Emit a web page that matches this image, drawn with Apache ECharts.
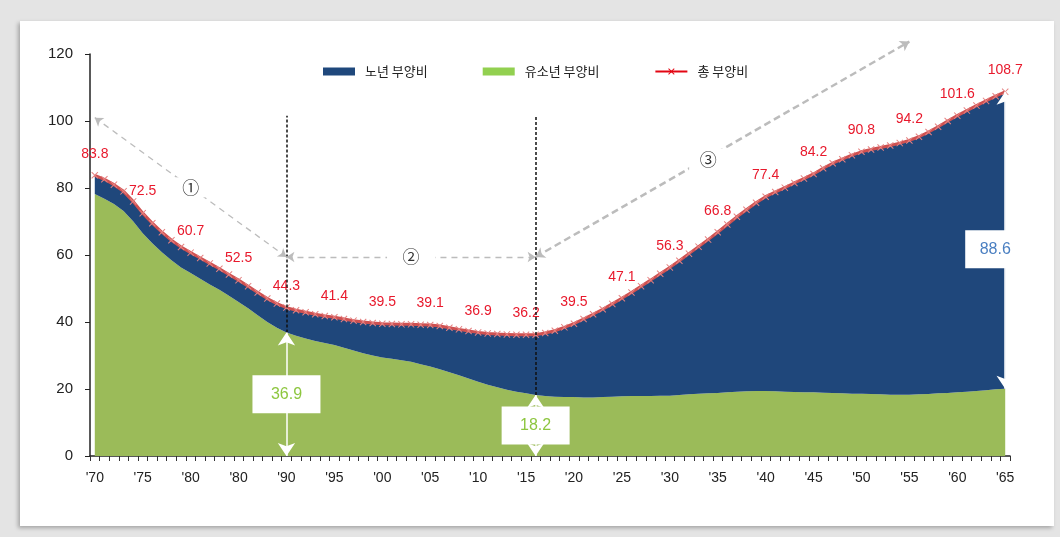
<!DOCTYPE html>
<html><head><meta charset="utf-8">
<script src="https://cdn.jsdelivr.net/npm/echarts@6/dist/echarts.min.js"></script>
<style>
html,body{margin:0;padding:0;width:1060px;height:537px;background:#e4e4e4;overflow:hidden;}
#card{position:absolute;left:20px;top:21px;width:1034px;height:505px;background:#fff;box-shadow:-2px 2px 4px rgba(0,0,0,0.28);}
#chart{position:absolute;left:0;top:0;width:1060px;height:537px;}
</style></head><body>
<div id="card"></div><div id="chart"></div>
<script>
const years = Array.from({length: 96}, (_, i) => String(1970 + i));
const tickLabels = ["'70","'75","'80","'80","'90","'95","'00","'05","'10","'15","'20","'25","'30","'35","'40","'45","'50","'55","'60","'65"];
const total = [
  83.8, 82.6, 81.0, 79.0, 76.0, 72.5, 69.5, 66.8, 64.4, 62.4,
  60.7, 59.1, 57.5, 55.9, 54.2, 52.5, 50.7, 48.8, 47.0, 45.5,
  44.3, 43.5, 42.9, 42.3, 41.8, 41.4, 40.9, 40.4, 40.0, 39.7,
  39.5, 39.4, 39.3, 39.3, 39.2, 39.1, 38.8, 38.3, 37.8, 37.3,
  36.9, 36.6, 36.4, 36.3, 36.2, 36.2, 36.2, 36.7, 37.4, 38.4,
  39.5, 40.9, 42.3, 43.8, 45.4, 47.1, 48.8, 50.7, 52.5, 54.4,
  56.3, 58.3, 60.4, 62.5, 64.6, 66.8, 69.1, 71.4, 73.5, 75.6,
  77.4, 78.8, 80.1, 81.5, 82.8, 84.2, 85.9, 87.4, 88.6, 89.8,
  90.8, 91.5, 92.1, 92.7, 93.4, 94.2, 95.3, 96.7, 98.3, 100.0,
  101.6, 103.1, 104.6, 106.0, 107.4, 108.7
];
const youth = [
  78.2, 76.8, 75.2, 73.1, 70.1, 66.5, 63.5, 60.8, 58.4, 56.3,
  54.6, 52.9, 51.2, 49.6, 47.8, 46.0, 44.1, 42.0, 40.0, 38.3,
  36.9, 35.9, 35.1, 34.3, 33.7, 33.1, 32.3, 31.5, 30.7, 30.0,
  29.4, 29.0, 28.6, 28.1, 27.4, 26.7, 25.9, 25.0, 24.1, 23.1,
  22.2, 21.3, 20.5, 19.8, 19.2, 18.7, 18.2, 17.9, 17.7, 17.6,
  17.6, 17.5, 17.5, 17.6, 17.7, 17.8, 17.9, 17.9, 17.9, 18.0,
  18.0, 18.2, 18.4, 18.6, 18.7, 18.8, 19.0, 19.2, 19.3, 19.4,
  19.4, 19.3, 19.2, 19.1, 19.0, 19.0, 18.9, 18.8, 18.7, 18.6,
  18.6, 18.5, 18.4, 18.3, 18.3, 18.3, 18.4, 18.5, 18.7, 18.8,
  19.0, 19.2, 19.4, 19.6, 19.9, 20.1
];
const elderly = total.map((t, i) => +(t - youth[i]).toFixed(1));

const NARROW = "'Liberation Sans Narrow', 'Arial Narrow', 'Liberation Sans', Arial, sans-serif";
const KR = "'Noto Sans CJK KR', 'Noto Sans', sans-serif";
const X_PATH = 'path://M0,1L1,0L5,4L9,0L10,1L6,5L10,9L9,10L5,6L1,10L0,9L4,5Z';
const at = y => years.indexOf(String(y));

const grayLine = (w, dash) => ({color: '#bcbcbc', width: w, type: dash});
const arrowPair = (a, b, style) => [
  {coord: a, symbol: 'arrow', symbolSize: 8, lineStyle: style},
  {coord: b, symbol: 'arrow', symbolSize: 8}
];
const arrowPairPx = (a, b, style) => [
  {x: a[0], y: a[1], symbol: 'arrow', symbolSize: 9, lineStyle: style},
  {x: b[0], y: b[1], symbol: 'arrow', symbolSize: 9}
];
const whitePair = (a, b) => [
  {coord: a, symbol: 'arrow', symbolSize: [13, 13], lineStyle: {color: '#fff', width: 1.5, type: 'solid'}},
  {coord: b, symbol: 'arrow', symbolSize: [13, 13]}
];
const blackPair = (a, b) => [
  {coord: a, symbol: 'none', lineStyle: {color: '#111', width: 1.5, type: [3, 2]}},
  {coord: b, symbol: 'none'}
];
const box = (coord, text, color, size, offset) => ({
  coord, symbol: 'rect', symbolSize: size, symbolOffset: offset || [0, 0],
  itemStyle: {color: '#fff'},
  label: {show: true, formatter: text, color, fontSize: 16, fontFamily: NARROW, offset: offset || [0, 0]}
});
const circ = (coord, text, size) => ({
  coord, symbol: 'rect', symbolSize: size, itemStyle: {color: '#fff'},
  label: {show: true, formatter: text, color: '#333', fontSize: 17, fontFamily: KR}
});

const y90 = youth[at(1990)], y16 = youth[at(2016)], e65 = elderly[at(2065)], t65 = total[at(2065)], y65 = youth[at(2065)];

const baseLines = [
  blackPair(['1990', y90], ['1990', 101.6]),
  blackPair(['2016', y16], ['2016', 101.6]),
  arrowPair(['1970', 101.0], ['1990', 59.4], grayLine(1.3, [6, 5])),
  arrowPair(['1990', 59.4], ['2016', 59.4], grayLine(1.3, [6, 5])),
  whitePair(['1990', y90], ['1990', 0]),
  whitePair(['2016', y16], ['2016', 0]),
  whitePair(['2065', y65], ['2065', t65])
];

const chart = echarts.init(document.getElementById('chart'), null, {renderer: 'canvas'});
chart.setOption({
  backgroundColor: 'transparent',
  animation: false,
  grid: {left: 90, right: 50, top: 54, bottom: 81},
  legend: {
    left: 318, top: 60, itemWidth: 32, itemHeight: 8, itemGap: 55,
    textStyle: {fontSize: 13, fontFamily: KR, color: '#222', padding: [0, 0, 0, 5]},
    data: [
      {name: '노년 부양비', icon: 'rect', itemStyle: {color: '#1f487c'}},
      {name: '유소년 부양비', icon: 'rect', itemStyle: {color: '#92d050'}},
      {name: '총 부양비', itemStyle: {color: '#e30613'}, lineStyle: {color: '#e30613', width: 2}}
    ]
  },
  xAxis: {
    type: 'category', data: years, boundaryGap: true,
    axisLine: {lineStyle: {color: '#222', width: 1.5}},
    axisTick: {show: true, interval: 0, length: 5, lineStyle: {color: '#333'}},
    axisLabel: {interval: 4, margin: 15, fontSize: 14, fontFamily: NARROW, color: '#222',
      formatter: (v, i) => tickLabels[Math.round(i / 5)]},
    splitLine: {show: false}
  },
  yAxis: {
    type: 'value', min: 0, max: 120, interval: 20,
    axisLine: {show: true, lineStyle: {color: '#222', width: 1.5}},
    axisTick: {show: true, length: 5, lineStyle: {color: '#222'}},
    axisLabel: {fontSize: 15, fontFamily: "'Liberation Sans', Arial, sans-serif", color: '#222', margin: 17},
    splitLine: {show: false}
  },
  series: [
    {name: '유소년 부양비', type: 'line', stack: 'a', data: youth, symbol: 'none',
      lineStyle: {width: 0}, itemStyle: {color: '#9bbb59'}, areaStyle: {color: '#9bbb59', opacity: 1}, z: 2},
    {name: '노년 부양비', type: 'line', stack: 'a', data: elderly, symbol: 'none',
      lineStyle: {width: 0}, itemStyle: {color: '#1f477b'}, areaStyle: {color: '#1f477b', opacity: 1}, z: 2},
    {name: '총 부양비', type: 'line', data: total, symbol: X_PATH, symbolSize: 7, showAllSymbol: true,
      lineStyle: {color: '#cf5151', width: 3}, itemStyle: {color: '#e58282'}, z: 3,
      label: {show: true, position: 'top', distance: 11, color: '#e8192c', fontSize: 14, fontFamily: NARROW,
        formatter: p => (p.dataIndex % 5 === 0 ? p.value.toFixed(1) : '')}},
    {id: 'lines', name: 'lines', type: 'line', data: [], clip: false, z: 4, silent: true,
      markLine: {silent: true, animation: false, label: {show: false}, data: baseLines}},
    {name: 'boxes', type: 'line', data: [], clip: false, z: 6, silent: true,
      markPoint: {silent: true, animation: false, data: [
        box(['1990', y90 / 2], y90.toFixed(1), '#8dc63f', [68, 38]),
        box(['2016', y16 / 2], y16.toFixed(1), '#8dc63f', [68, 38]),
        box(['2065', y65 + e65 * 0.47], e65.toFixed(1), '#4a7fc1', [70, 38], [-5, 0]),
        circ(['1980', 80.2], '①', [30, 20]),
        circ(['2003', 59.4], '②', [48, 20]),
        circ(['2034', 88.5], '③', [38, 22])
      ]}}
  ]
});
// arrow ③ runs above the axis maximum, so its ends are converted to pixels through the axes
const p1 = chart.convertToPixel({gridIndex: 0}, ['2016', 59.4]);
const p2 = chart.convertToPixel({gridIndex: 0}, ['2055', 123.7]);
chart.setOption({series: [{id: 'lines', markLine: {data: baseLines.concat([arrowPairPx(p1, p2, grayLine(2.5, [7, 4]))])}}]});
</script></body></html>
